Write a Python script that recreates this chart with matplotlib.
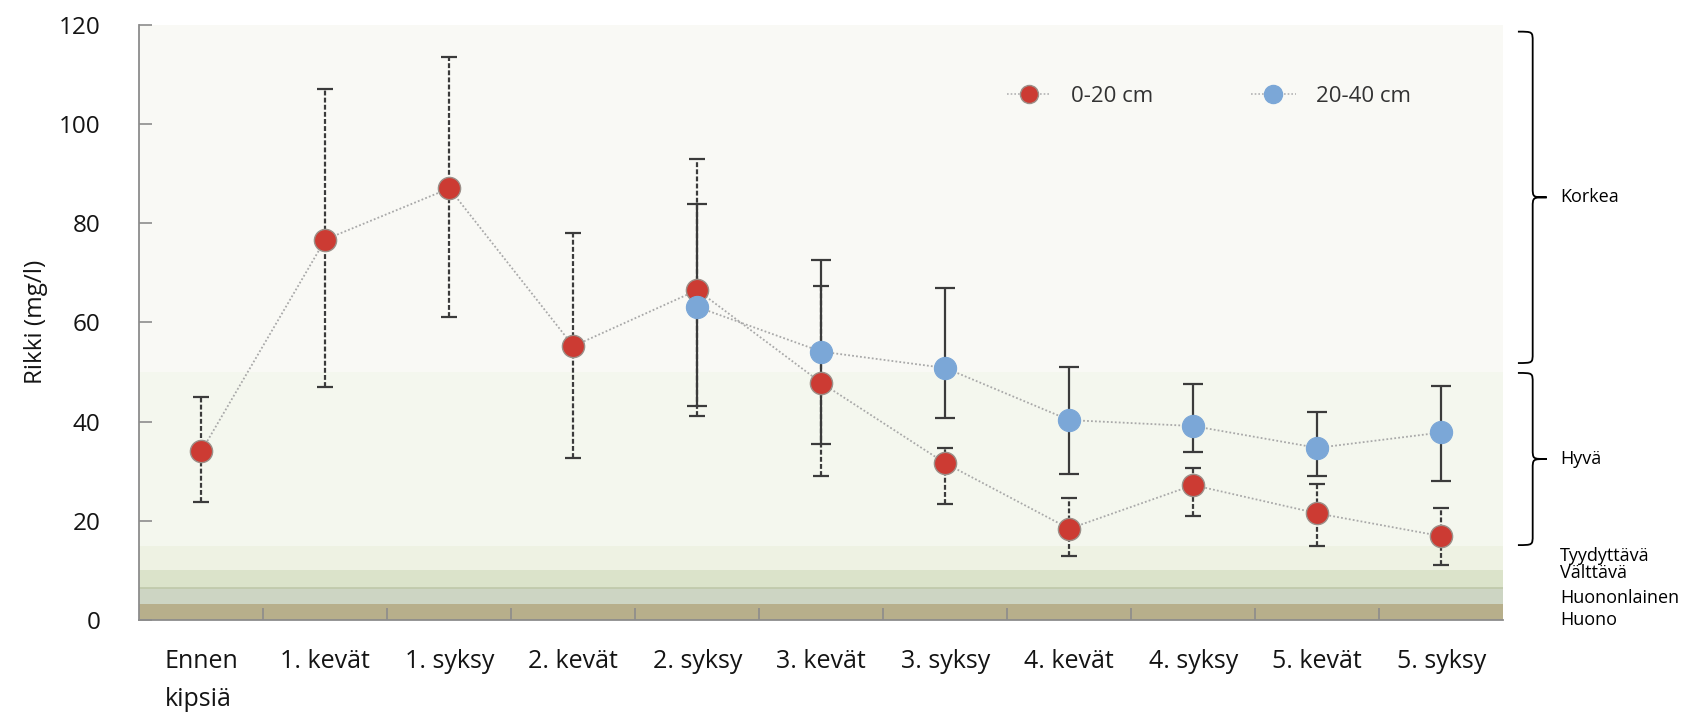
import matplotlib
matplotlib.use("Agg")
import matplotlib.pyplot as plt
from matplotlib.path import Path
from matplotlib.patches import PathPatch
from matplotlib.lines import Line2D
import numpy as np

plt.rcParams['font.family'] = ['Open Sans', 'DejaVu Sans']

# --- data -------------------------------------------------------------
categories = ["Ennen\nkipsiä", "1. kevät", "1. syksy", "2. kevät", "2. syksy",
              "3. kevät", "3. syksy", "4. kevät", "4. syksy", "5. kevät", "5. syksy"]

# 0-20 cm layer
top_mean = [34.0, 76.7, 87.0, 55.2, 66.5, 47.8, 31.6, 18.4, 27.2, 21.5, 16.9]
top_high = [45.0, 107.1, 113.5, 78.1, 93.0, 67.3, 34.7, 24.6, 30.7, 27.5, 22.5]
top_low = [23.8, 47.0, 61.0, 32.7, 41.2, 29.1, 23.4, 12.9, 21.0, 14.9, 11.0]

# 20-40 cm layer (measured from the second autumn onwards)
sub_idx = [4, 5, 6, 7, 8, 9, 10]
sub_mean = [63.1, 54.1, 50.8, 40.3, 39.1, 34.7, 37.8]
sub_high = [83.8, 72.6, 66.9, 51.1, 47.6, 42.0, 47.1]
sub_low = [43.2, 35.5, 40.7, 29.5, 33.9, 29.1, 28.1]

series_labels = ["0-20 cm", "20-40 cm"]

# soil sulphur classes (lower, upper limit, fill colour)
class_bounds = [0, 3.2, 6.4, 10, 15, 50, 120]
class_colors = ["#b7af8b", "#cdd5c3", "#dbe3ca", "#eef2e3", "#f4f7ee", "#f9f9f5"]
brace_classes = [("Korkea", 51.8, 118.6), ("Hyvä", 15.1, 49.8)]
small_classes = [("Tyydyttävä", 13.0), ("Välttävä", 9.4), ("Huononlainen", 4.4), ("Huono", 0.0)]

y_ticks = [0, 20, 40, 60, 80, 100, 120]

# --- figure -----------------------------------------------------------
W, H = 1683, 718
fig = plt.figure(figsize=(W / 100, H / 100), dpi=100)
ax = fig.add_axes([139.3 / W, 98 / H, 1364 / W, 595.3 / H])

x = np.arange(len(categories))
ax.set_xlim(-0.5, len(categories) - 0.5)
ax.set_ylim(0, 120)

for lo, hi, c in zip(class_bounds[:-1], class_bounds[1:], class_colors):
    ax.axhspan(lo, hi, color=c, lw=0, zorder=0)
ax.axhline(6.4, color="#bfc8a9", lw=1.2, zorder=0.5)

err_color = "#3b3b3b"
red = "#cc3b33"
blue = "#7ba7d7"

# connecting dotted lines
ax.plot(x, top_mean, ls=(0, (1, 1.2)), color="#a9a9a9", lw=1.3, zorder=2)
ax.plot(sub_idx, sub_mean, ls=(0, (1, 1.2)), color="#a9a9a9", lw=1.3, zorder=2)

# error bars
tm = np.array(top_mean)
e1 = ax.errorbar(x, tm, yerr=[tm - np.array(top_low), np.array(top_high) - tm],
                 fmt="none", ecolor=err_color, elinewidth=1.6, capsize=6, capthick=1.6, zorder=3)
for lc in e1[2]:
    lc.set_linestyle((0, (2.2, 1.0)))
sm = np.array(sub_mean)
ax.errorbar(sub_idx, sm, yerr=[sm - np.array(sub_low), np.array(sub_high) - sm],
            fmt="none", ecolor=err_color, elinewidth=1.6, capsize=7, capthick=1.6, zorder=3)

# markers
ax.plot(x, top_mean, ls="none", marker="o", ms=16, mfc=red, mec="#9c8f88", mew=1.0, zorder=4)
ax.plot(sub_idx, sub_mean, ls="none", marker="o", ms=16, mfc=blue, mec=blue, mew=0.8, zorder=5)

# axes styling
for s in ["top", "right"]:
    ax.spines[s].set_visible(False)
for s in ["left", "bottom"]:
    ax.spines[s].set_color("#8c8c8c")
    ax.spines[s].set_linewidth(1.3)

text_color = "#141414"
ax.set_yticks(y_ticks)
ax.tick_params(axis="y", direction="in", length=9, width=1.2, color="#8c8c8c",
               labelsize=17.5, pad=28, labelcolor=text_color)
ax.set_xticks(x)
ax.set_xticklabels(categories, fontsize=18, color=text_color, linespacing=1.7, va="top")
ax.tick_params(axis="x", length=0, pad=21)
ax.set_xticks(np.arange(0.5, len(categories) - 1, 1), minor=True)
ax.tick_params(axis="x", which="minor", direction="in", length=9, width=1.2, color="#8c8c8c")
for lab in ax.get_xticklabels():
    lab.set_multialignment("left")

ax.set_ylabel("Rikki (mg/l)", fontsize=17.5, color=text_color, labelpad=8)

# legend
handles = [Line2D([0], [0], ls=(0, (1, 1.2)), color="#b3b3b3", lw=1.2, marker="o", ms=13,
                  mfc=red, mec="#9c8f88"),
           Line2D([0], [0], ls=(0, (1, 1.2)), color="#b3b3b3", lw=1.2, marker="o", ms=13,
                  mfc=blue, mec=blue)]
ax.legend(handles, series_labels, loc="center", bbox_to_anchor=(0.784, 0.879), ncol=2,
          frameon=False, fontsize=16, handlelength=2.0, columnspacing=4.4, handletextpad=0.9,
          labelcolor="#333333")

# class braces on the right
x_tip, x_vert, x_point, x_text = 10.618, 10.737, 10.85, 10.96
r = 2.0
for name, lo, hi in brace_classes:
    mid = (lo + hi) / 2
    verts = [(x_tip, hi), (x_vert, hi), (x_vert, hi), (x_vert, hi - r),
             (x_vert, mid + r),
             (x_vert, mid), (x_vert, mid), (x_point, mid),
             (x_vert, mid), (x_vert, mid), (x_vert, mid - r),
             (x_vert, lo + r),
             (x_vert, lo), (x_vert, lo), (x_tip, lo)]
    codes = [Path.MOVETO, Path.CURVE4, Path.CURVE4, Path.CURVE4,
             Path.LINETO,
             Path.CURVE4, Path.CURVE4, Path.CURVE4,
             Path.CURVE4, Path.CURVE4, Path.CURVE4,
             Path.LINETO,
             Path.CURVE4, Path.CURVE4, Path.CURVE4]
    ax.add_patch(PathPatch(Path(verts, codes), fill=False, lw=1.3, ec="black", clip_on=False))
    ax.text(x_text, mid, name, fontsize=13, va="center", ha="left", clip_on=False)

for name, yv in small_classes:
    ax.text(x_text, yv, name, fontsize=13, va="center", ha="left", clip_on=False)

fig.savefig("out.png", dpi=100, facecolor="white")
